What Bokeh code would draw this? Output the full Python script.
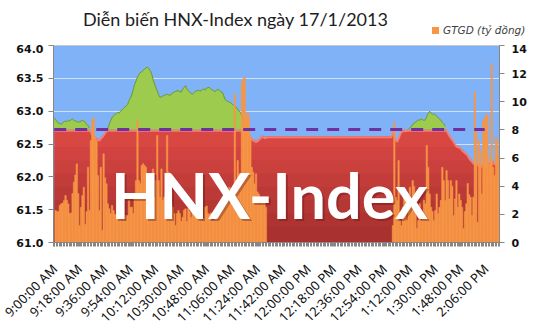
import math
import numpy as np
from bokeh.plotting import figure
from bokeh.layouts import column
from bokeh.models import (Range1d, LinearAxis, FixedTicker, Label, Div,
                          NumeralTickFormatter)
from bokeh.embed import file_html
from bokeh.resources import INLINE

# ---------------- data ----------------
title_text = "Diễn biến HNX-Index ngày 17/1/2013"
legend_label = "GTGD (tỷ đồng)"
watermark_text = "HNX-Index"
ref_level = 62.72          # reference (previous close) level

xtick_labels = ["9:00:00 AM", "9:18:00 AM", "9:36:00 AM", "9:54:00 AM",
                "10:12:00 AM", "10:30:00 AM", "10:48:00 AM", "11:06:00 AM",
                "11:24:00 AM", "11:42:00 AM", "12:00:00 PM", "12:18:00 PM",
                "12:36:00 PM", "12:54:00 PM", "1:12:00 PM", "1:30:00 PM",
                "1:48:00 PM", "2:06:00 PM"]
label_step = 18  # one label every 18 one-minute categories

# HNX-Index, one value per minute, 9:00 -> 11:30
index_am = [
    62.90, 62.87, 62.84, 62.82, 62.81, 62.80, 62.82, 62.84, 62.85, 62.84,
    62.86, 62.85, 62.87, 62.88, 62.86, 62.85, 62.84, 62.83, 62.84, 62.85,
    62.86, 62.85, 62.83, 62.80, 62.78, 62.74, 62.70, 62.66, 62.63, 62.61,
    62.60, 62.58, 62.57, 62.60, 62.62, 62.65, 62.68, 62.71, 62.74, 62.80,
    62.86, 62.90, 62.93, 62.95, 62.96, 62.98, 62.97, 63.00, 63.02, 63.04,
    63.06, 63.08, 63.10, 63.16, 63.20, 63.25, 63.33, 63.41, 63.46, 63.52,
    63.56, 63.59, 63.60, 63.62, 63.64, 63.66, 63.67, 63.65, 63.62, 63.57,
    63.49, 63.42, 63.36, 63.31, 63.25, 63.21, 63.22, 63.23, 63.24, 63.25,
    63.26, 63.25, 63.24, 63.26, 63.28, 63.29, 63.30, 63.31, 63.31, 63.30,
    63.29, 63.33, 63.36, 63.39, 63.34, 63.31, 63.29, 63.27, 63.26, 63.28,
    63.30, 63.31, 63.32, 63.31, 63.31, 63.33, 63.34, 63.32, 63.35, 63.36,
    63.36, 63.34, 63.32, 63.31, 63.30, 63.32, 63.33, 63.32, 63.30, 63.29,
    63.24, 63.18, 63.16, 63.15, 63.14, 63.13, 63.11, 63.09, 63.07, 63.06,
    63.03, 63.00, 62.98, 62.92, 62.85, 62.80, 62.76, 62.72, 62.66, 62.62,
    62.59, 62.57, 62.56, 62.55, 62.56, 62.58, 62.60, 62.63, 62.62, 62.61,
    62.61]
# lunch break 11:31 -> 12:59, index unchanged
index_lunch = [62.62] * 89
# 13:00 -> 14:15
index_pm = [
    62.74, 62.66, 62.58, 62.55, 62.60, 62.66, 62.70, 62.71, 62.72, 62.71,
    62.72, 62.73, 62.74, 62.77, 62.80, 62.82, 62.83, 62.85, 62.87, 62.86,
    62.88, 62.87, 62.86, 62.87, 62.92, 62.96, 63.00, 62.97, 62.95, 62.96,
    62.94, 62.93, 62.90, 62.88, 62.86, 62.83, 62.81, 62.77, 62.72, 62.68,
    62.64, 62.61, 62.58, 62.55, 62.51, 62.48, 62.47, 62.46, 62.45, 62.42,
    62.40, 62.38, 62.36, 62.34, 62.30, 62.27, 62.25, 62.22, 62.21, 62.22,
    62.20, 62.18, 62.19, 62.17, 62.20, 62.18, 62.16, 62.19, 62.21, 62.20,
    62.22, 62.25, 62.20, 62.23, 62.28, 62.33]

# GTGD (trading value, bn VND) per minute
vol_am = [
    0.00, 2.27, 2.20, 2.20, 2.63, 2.75, 2.80, 2.98, 3.34, 3.00,
    2.75, 2.06, 2.10, 3.48, 4.29, 4.80, 5.59, 3.48, 1.20, 2.50,
    3.34, 3.93, 1.30, 2.20, 5.35, 2.27, 7.25, 8.67, 8.90, 7.50,
    7.25, 4.76, 2.27, 5.35, 0.85, 6.30, 4.60, 4.17, 2.75, 2.40,
    2.06, 2.63, 2.27, 2.00, 1.92, 1.80, 1.92, 1.80, 1.56, 1.68,
    1.56, 1.92, 1.92, 3.00, 2.50, 2.51, 2.06, 3.22, 4.40, 8.67,
    4.40, 4.20, 5.47, 5.60, 5.47, 5.35, 4.40, 3.22, 4.40, 2.50,
    5.23, 3.22, 4.40, 7.60, 4.40, 3.22, 5.23, 3.00, 3.22, 3.50,
    7.60, 5.00, 3.00, 2.75, 2.50, 2.06, 1.20, 2.06, 2.27, 2.06,
    1.50, 1.80, 2.30, 2.40, 1.50, 2.40, 2.20, 1.80, 2.40, 2.63,
    2.50, 2.27, 2.40, 2.20, 2.30, 1.56, 1.70, 2.51, 2.60, 2.06,
    2.00, 2.10, 1.56, 1.60, 2.27, 2.30, 2.50, 2.50, 2.60, 3.00,
    2.90, 3.22, 3.30, 3.10, 3.93, 3.80, 3.00, 3.00, 10.57, 4.40,
    5.83, 4.90, 4.40, 11.39, 11.63, 11.75, 8.90, 9.26, 9.00, 7.49,
    5.35, 5.00, 4.17, 4.88, 3.60, 3.45, 2.75, 3.22, 3.10, 3.00,
    2.50]
vol_lunch = [0.0] * 89
vol_pm = [
    1.20, 8.55, 3.20, 2.98, 5.83, 1.56, 1.20, 2.50, 3.45, 3.00,
    1.56, 2.50, 3.93, 3.22, 4.40, 4.00, 2.50, 1.00, 1.56, 2.75,
    1.56, 2.00, 3.00, 2.75, 6.90, 5.35, 3.45, 2.50, 2.20, 1.56,
    2.27, 3.45, 2.06, 2.50, 3.00, 5.35, 4.40, 2.98, 5.12, 4.40,
    3.10, 4.40, 4.00, 1.92, 3.10, 4.40, 2.50, 3.45, 3.00, 2.50,
    1.00, 2.20, 2.75, 4.20, 3.40, 3.22, 1.92, 3.22, 10.70, 7.96,
    1.44, 7.25, 6.50, 3.45, 8.67, 8.80, 9.15, 9.00, 5.50, 6.00,
    12.70, 5.35, 4.76, 7.49, 7.20, 6.00]

index_vals = np.array(index_am + index_lunch + index_pm)
vol_vals = np.array(vol_am + vol_lunch + vol_pm)
minutes = np.arange(len(index_vals))       # category positions
n_cat = len(minutes)

red_top = np.minimum(index_vals, ref_level)
green_top = np.maximum(index_vals, ref_level)
green_edge = np.where(index_vals > ref_level, index_vals, np.nan)

BAR_COLOR = "#F79646"

# ---------------- header (title + legend) ----------------
header_html = (
    '<div style="position:relative;width:535px;height:44px;overflow:visible;">'
    '<div style="position:absolute;left:83px;top:9px;font-family:Lato;'
    'font-size:18px;line-height:1.2;color:#1E1E1E;white-space:nowrap;">'
    + title_text + '</div>'
    '<div style="position:absolute;left:432px;top:27px;width:7px;height:7px;'
    'background:' + BAR_COLOR + ';"></div>'
    '<div style="position:absolute;left:443px;top:24px;font-family:\'DejaVu Sans\';'
    'font-style:italic;font-size:10.5px;line-height:13px;color:#404040;'
    'white-space:nowrap;">' + legend_label + '</div>'
    '</div>'
)
header = Div(text=header_html, width=535, height=44, margin=0)

# ---------------- main chart ----------------
p = figure(width=535, height=291, output_backend="svg", toolbar_location=None,
           x_range=Range1d(-0.5, n_cat - 0.5), y_range=Range1d(61.0, 64.0),
           min_border_left=53, min_border_right=36, min_border_top=1,
           min_border_bottom=93, title=None)
p.extra_y_ranges = {"vol": Range1d(0, 14)}

p.background_fill_color = "#80B2F8"
p.border_fill_color = "white"
p.outline_line_color = "#C8C8C8"

# red area (index below reference) with a darkening gradient toward the bottom
p.varea(x=minutes, y1=61.0, y2=red_top, fill_color="#D94743")
for lvl in [62.45, 62.25, 62.05, 61.85, 61.65, 61.45, 61.25]:
    p.varea(x=minutes, y1=61.0, y2=np.minimum(red_top, lvl),
            fill_color="#5A0E0E", fill_alpha=0.06)
p.line(x=minutes, y=red_top - 0.018, line_color="#F28A80", line_width=2,
       line_alpha=0.85)

# green area (index above reference)
p.varea(x=minutes, y1=ref_level, y2=green_top, fill_color="#9CCB4E")
p.line(x=minutes, y=green_edge, line_color="#6C9830", line_width=1)

# GTGD bars
bars = p.vbar(x=minutes, top=vol_vals, width=1.0, y_range_name="vol",
              fill_color=BAR_COLOR, line_color=BAR_COLOR, line_width=0.5)

# reference dashed line
p.line(x=minutes[:306], y=np.full(306, ref_level), line_color="#7030A0",
       line_width=3, line_dash="12 9")

# watermark
wm_x = n_cat / 2 - 5.5
wm_y = 61.735
shadow = Label(x=wm_x, y=wm_y, text=watermark_text, text_font="Lato",
               text_font_style="bold", text_font_size="63px",
               text_color="#5A1010", text_alpha=0.35, text_align="center",
               text_baseline="middle", x_offset=2, y_offset=-2)
wm = Label(x=wm_x, y=wm_y, text=watermark_text, text_font="Lato",
           text_font_style="bold", text_font_size="63px", text_color="white",
           text_align="center", text_baseline="middle")
p.add_layout(shadow)
p.add_layout(wm)

# grids
p.xgrid.grid_line_color = None
p.ygrid.grid_line_color = "#CFE1FC"
p.ygrid.grid_line_width = 1

axis_col = "#868686"
lab_font = "DejaVu Sans"

# left axis
yl = p.yaxis[0]
yl.ticker = FixedTicker(ticks=[61.0, 61.5, 62.0, 62.5, 63.0, 63.5, 64.0])
yl.formatter = NumeralTickFormatter(format="0.0")
yl.axis_line_color = axis_col
yl.major_tick_line_color = axis_col
yl.major_tick_out = 5
yl.major_tick_in = 0
yl.minor_tick_line_color = None
yl.major_label_standoff = 5
yl.major_label_text_font = lab_font
yl.major_label_text_font_style = "bold"
yl.major_label_text_font_size = "11px"
yl.major_label_text_color = "#111111"

# right axis
yr = LinearAxis(y_range_name="vol", ticker=FixedTicker(ticks=list(range(0, 15, 2))))
yr.axis_line_color = axis_col
yr.major_tick_line_color = axis_col
yr.major_tick_out = 5
yr.major_tick_in = 0
yr.minor_tick_line_color = None
yr.major_label_standoff = 7
yr.major_label_text_font = lab_font
yr.major_label_text_font_style = "bold"
yr.major_label_text_font_size = "11px"
yr.major_label_text_color = "#111111"
p.add_layout(yr, "right")

# bottom axis
xa = p.xaxis[0]
tick_pos = [k * label_step for k in range(len(xtick_labels))]
xa.ticker = FixedTicker(ticks=tick_pos,
                        minor_ticks=[k - 0.5 for k in range(n_cat + 1)])
xa.major_label_overrides = {int(t): lab for t, lab in zip(tick_pos, xtick_labels)}
xa.major_label_orientation = math.pi / 4
xa.axis_line_color = axis_col
xa.major_tick_line_color = axis_col
xa.minor_tick_line_color = axis_col
xa.major_tick_out = 4
xa.major_tick_in = 0
xa.minor_tick_out = 4
xa.minor_tick_in = 0
xa.major_label_standoff = 20
xa.major_label_text_font = "Noto Sans"
xa.major_label_text_font_size = "13px"
xa.major_label_text_color = "#111111"

layout = column(header, p, spacing=0)
open("out.html", "w").write(file_html(layout, INLINE))
